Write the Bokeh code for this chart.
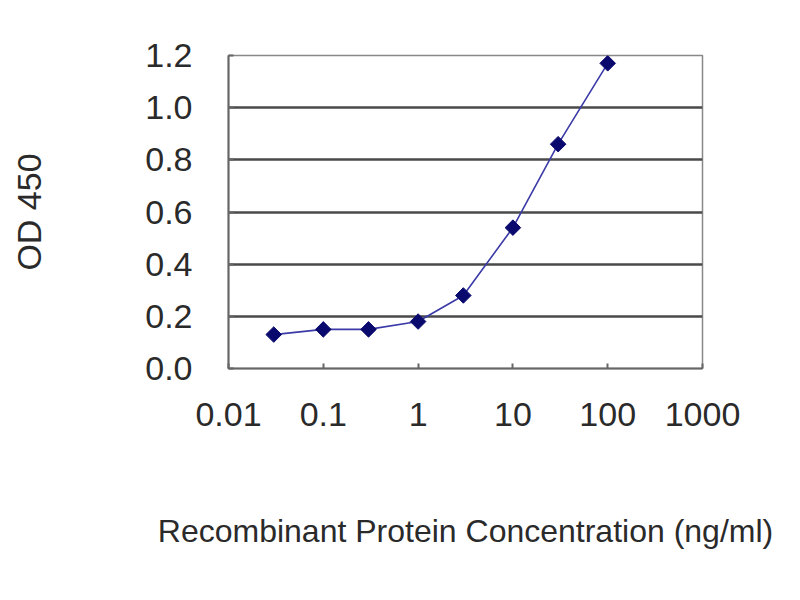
import math
from bokeh.plotting import figure
from bokeh.models import FixedTicker, NumeralTickFormatter, Range1d
from bokeh.embed import file_html
from bokeh.resources import INLINE

# data
conc = [0.03, 0.1, 0.3, 1, 3, 10, 30, 100]
od450 = [0.13, 0.15, 0.15, 0.18, 0.28, 0.54, 0.86, 1.17]

x_ticks = [0.01, 0.1, 1, 10, 100, 1000]
x_tick_labels = ["0.01", "0.1", "1", "10", "100", "1000"]
y_ticks = [0.0, 0.2, 0.4, 0.6, 0.8, 1.0, 1.2]

FONT = "Liberation Sans"
TEXT = "#2a2a2a"

p = figure(width=784, height=584, frame_width=474, frame_height=313,
           x_axis_type="log", output_backend="svg", toolbar_location=None, tools="",
           min_border_left=228, min_border_right=82, min_border_top=55, min_border_bottom=216)
p.x_range = Range1d(0.01, 1000)
p.y_range = Range1d(0, 1.2)

p.line(conc, od450, line_color="#3a3aa8", line_width=1.6)
p.scatter(conc, od450, marker="square", angle=math.pi / 4, size=11,
          fill_color="#0a0a6e", line_color="#0a0a6e")

# gridlines
p.xgrid.grid_line_color = None
p.ygrid.ticker = FixedTicker(ticks=y_ticks)
p.ygrid.grid_line_color = "#4a4a4a"
p.ygrid.grid_line_width = 2.5
p.outline_line_color = "#888888"
p.outline_line_width = 1.5

# x axis
p.xaxis.ticker = FixedTicker(ticks=x_ticks)
p.xaxis.major_label_overrides = {t: l for t, l in zip(x_ticks, x_tick_labels)}
p.xaxis.axis_label = "Recombinant Protein Concentration (ng/ml)"
p.xaxis.major_label_standoff = 34
p.xaxis.axis_label_standoff = 84

# y axis
p.yaxis.ticker = FixedTicker(ticks=y_ticks)
p.yaxis.formatter = NumeralTickFormatter(format="0.0")
p.yaxis.axis_label = "OD 450"
p.yaxis.major_label_standoff = 36
p.yaxis.axis_label_standoff = 94

for ax in (p.xaxis[0], p.yaxis[0]):
    ax.axis_line_color = "#666666"
    ax.axis_line_width = 2
    ax.major_tick_in = 5
    ax.major_tick_out = 0
    ax.major_tick_line_color = "#666666"
    ax.major_tick_line_width = 2
    ax.minor_tick_line_color = None
    ax.major_label_text_font = FONT
    ax.major_label_text_font_size = "34px"
    ax.major_label_text_color = TEXT
    ax.axis_label_text_font = FONT
    ax.axis_label_text_font_size = "34px"
    ax.axis_label_text_font_style = "normal"
    ax.axis_label_text_color = TEXT

# the long x label is a little smaller so it stays inside the page
p.xaxis.axis_label_text_font_size = "32px"

open("out.html", "w").write(file_html(p, INLINE))
